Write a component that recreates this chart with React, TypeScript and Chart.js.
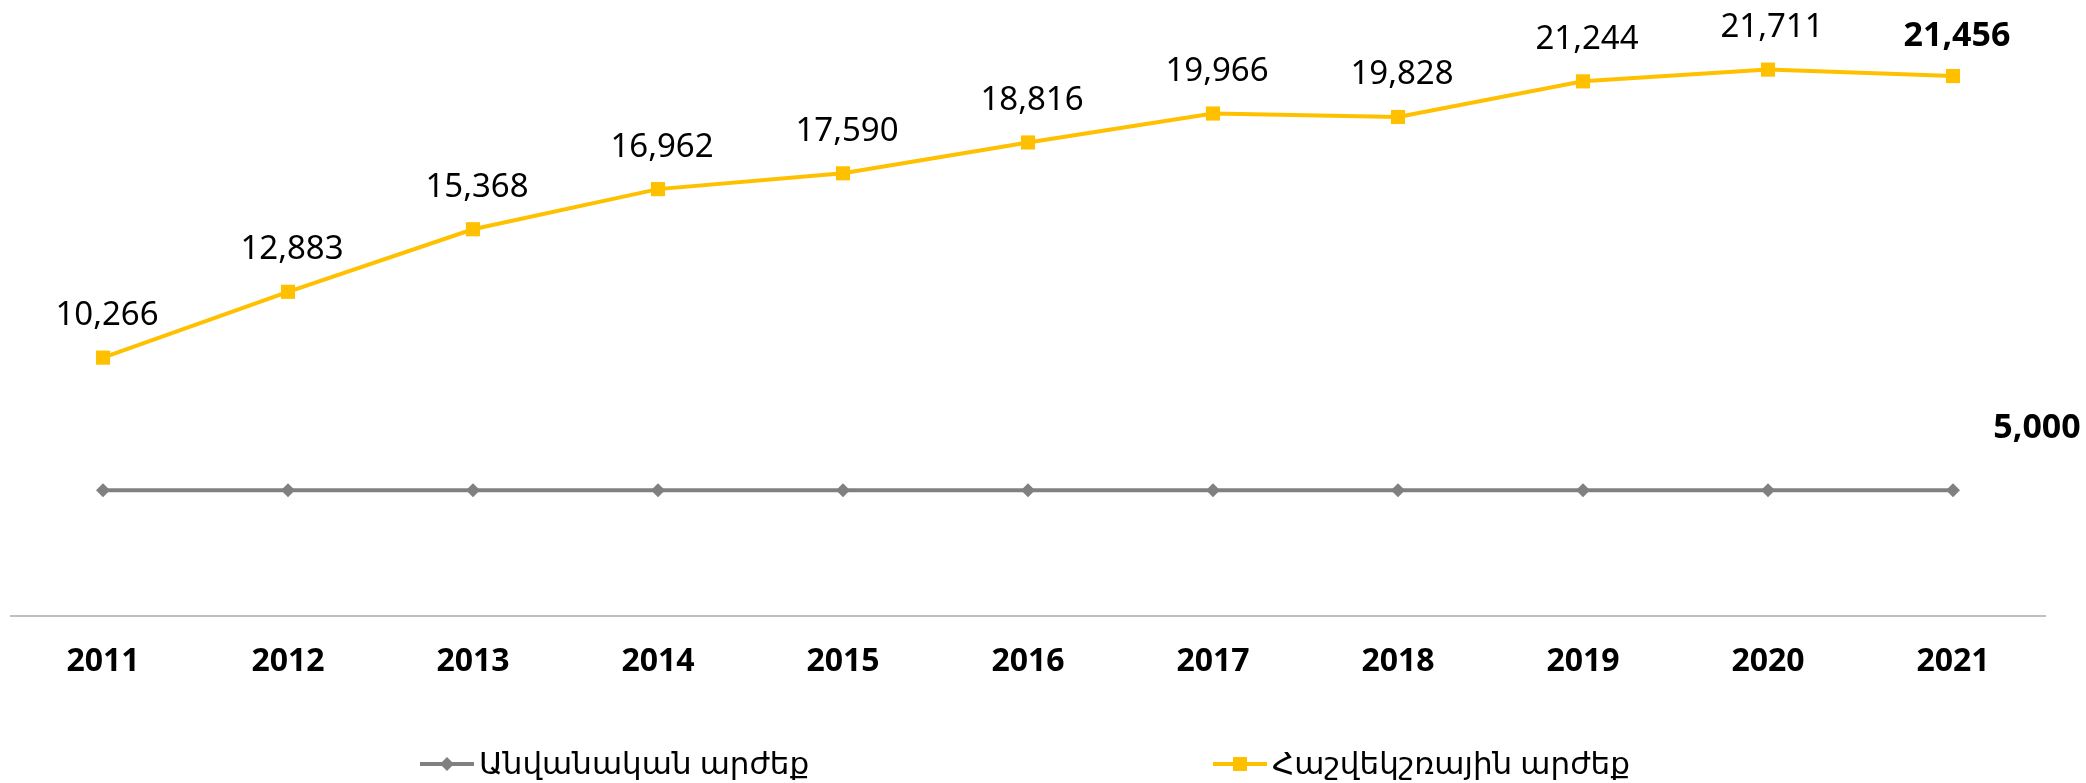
import { useEffect, useRef } from 'react';
import { Chart, registerables } from 'chart.js';

Chart.register(...registerables);

const years = ['2011', '2012', '2013', '2014', '2015', '2016', '2017', '2018', '2019', '2020', '2021'];
const nominalLabel = 'Անվանական արժեք';
const balanceLabel = 'Հաշվեկշռային արժեք';
const nominalValues = [5000, 5000, 5000, 5000, 5000, 5000, 5000, 5000, 5000, 5000, 5000];
const balanceValues = [10266, 12883, 15368, 16962, 17590, 18816, 19966, 19828, 21244, 21711, 21456];

const GRAY = '#808080';
const YELLOW = '#FFC000';
const FONT = '"Noto Sans", "DejaVu Sans", sans-serif';

const fmt = (v: number) => v.toLocaleString('en-US');

const labelsPlugin = {
  id: 'valueLabels',
  afterDatasetsDraw(chart: any) {
    const ctx = chart.ctx;
    ctx.save();
    ctx.fillStyle = '#000';
    ctx.textAlign = 'center';
    ctx.textBaseline = 'middle';
    const mB = chart.getDatasetMeta(1);
    const dB = chart.data.datasets[1].data as number[];
    mB.data.forEach((pt: any, i: number) => {
      const last = i === dB.length - 1;
      ctx.font = (last ? 'bold 34px ' : '33px ') + FONT;
      ctx.fillText(fmt(dB[i]), pt.x + 4, pt.y - (last ? 40 : 42));
    });
    const mN = chart.getDatasetMeta(0);
    const dN = chart.data.datasets[0].data as number[];
    const li = dN.length - 1;
    const p = mN.data[li];
    ctx.font = 'bold 34px ' + FONT;
    ctx.fillText(fmt(dN[li]), p.x + 84, p.y - 62);
    ctx.restore();
  },
};

const legendItemsX = [420, 1213];

const legendPlugin = {
  id: 'customLegend',
  afterDraw(chart: any) {
    const ctx = chart.ctx;
    const y = 764;
    ctx.save();
    chart.data.datasets.forEach((ds: any, i: number) => {
      const x0 = legendItemsX[i];
      const x1 = x0 + 54;
      ctx.strokeStyle = ds.borderColor;
      ctx.lineWidth = 4;
      ctx.beginPath();
      ctx.moveTo(x0, y);
      ctx.lineTo(x1, y);
      ctx.stroke();
      const cx = (x0 + x1) / 2;
      ctx.fillStyle = ds.borderColor;
      if (ds.pointStyle === 'rectRot') {
        ctx.beginPath();
        ctx.moveTo(cx, y - 7);
        ctx.lineTo(cx + 7, y);
        ctx.lineTo(cx, y + 7);
        ctx.lineTo(cx - 7, y);
        ctx.closePath();
        ctx.fill();
      } else {
        ctx.fillRect(cx - 7, y - 7, 14, 14);
      }
      ctx.fillStyle = '#000';
      ctx.font = '31px ' + FONT;
      ctx.textAlign = 'left';
      ctx.textBaseline = 'middle';
      ctx.fillText(ds.label, x1 + 5, y + 1);
    });
    ctx.restore();
  },
};

export default function App() {
  const ref = useRef<HTMLCanvasElement | null>(null);
  useEffect(() => {
    document.body.style.margin = '0';
    const chart = new Chart(ref.current!, {
      type: 'line',
      data: {
        labels: years,
        datasets: [
          {
            label: nominalLabel,
            data: nominalValues,
            borderColor: GRAY,
            backgroundColor: GRAY,
            borderWidth: 4,
            pointStyle: 'rectRot',
            pointRadius: 7,
            pointBorderWidth: 0,
            tension: 0,
            clip: false as any,
          },
          {
            label: balanceLabel,
            data: balanceValues,
            borderColor: YELLOW,
            backgroundColor: YELLOW,
            borderWidth: 4,
            pointStyle: 'rect',
            pointRadius: 10,
            pointBorderWidth: 0,
            tension: 0,
            clip: false as any,
          },
        ],
      },
      options: {
        animation: false,
        responsive: false,
        maintainAspectRatio: false,
        layout: { padding: { left: 10.5, right: 40.5, top: 12, bottom: 77 } },
        plugins: { legend: { display: false }, tooltip: { enabled: false } },
        scales: {
          x: {
            offset: true,
            grid: { display: false, drawTicks: false },
            border: { display: true, color: '#BFBFBF', width: 2 },
            ticks: {
              color: '#000',
              font: { family: FONT, size: 32, weight: 'bold' },
              padding: 27,
              maxRotation: 0,
              autoSkip: false,
            },
            afterFit: (s: any) => {
              s.height = 90;
            },
          },
          y: {
            display: false,
            min: 0,
            max: 24000,
          },
        },
      },
      plugins: [labelsPlugin, legendPlugin],
    });
    return () => chart.destroy();
  }, []);
  return (
    <div style={{ width: 2086, height: 783, background: '#fff' }}>
      <canvas ref={ref} width={2086} height={783} style={{ display: 'block' }} />
    </div>
  );
}
